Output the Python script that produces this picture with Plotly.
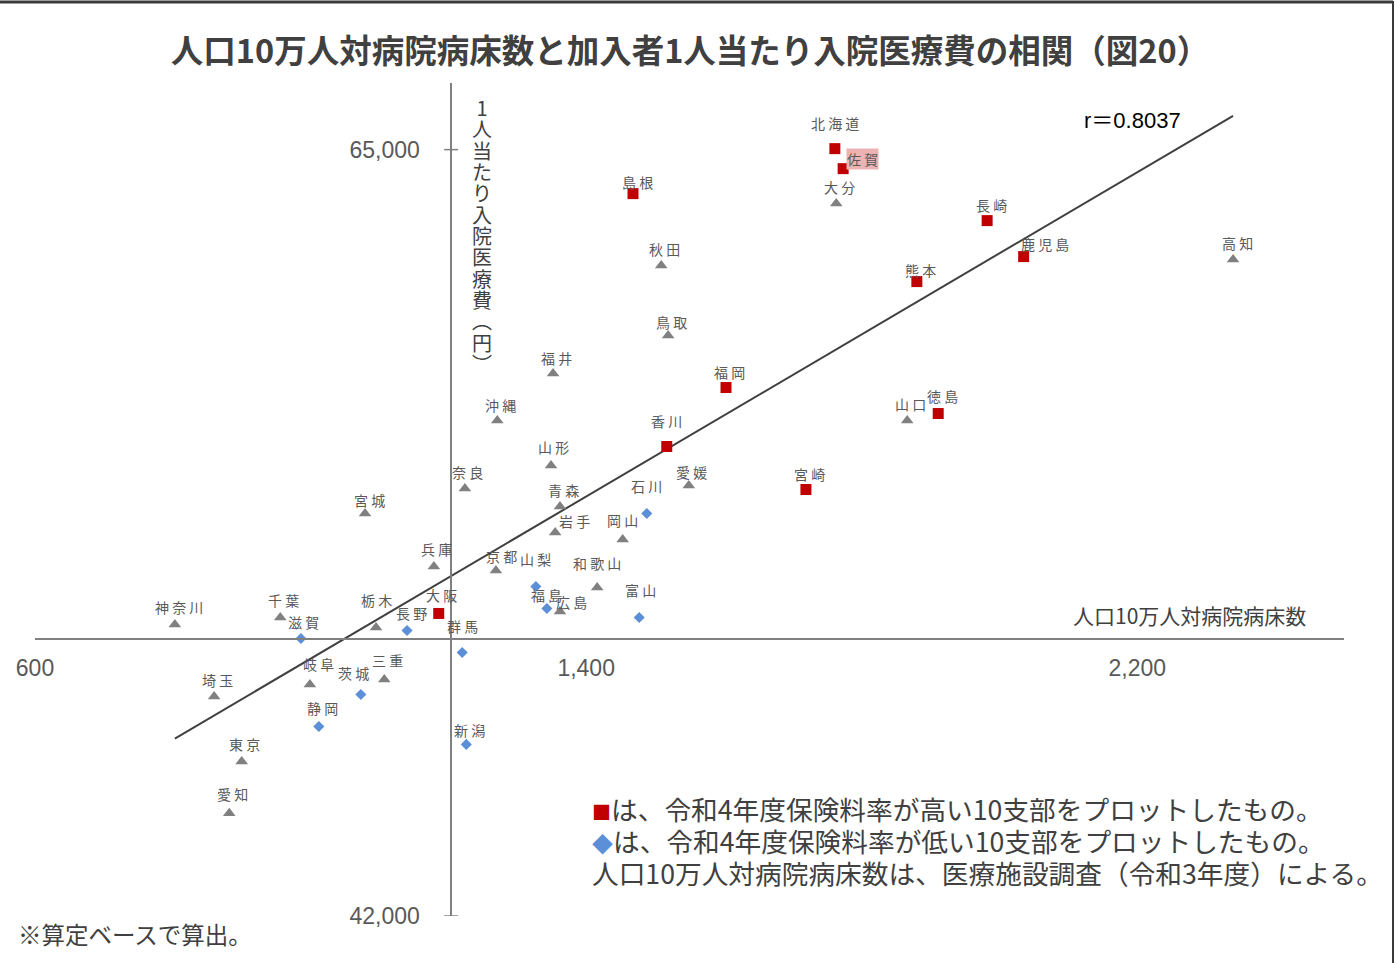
import numpy as np
import plotly.graph_objects as go

W, H = 1397, 963

# ---------------- data ----------------
HIGH_NAMES = ["北海道", "佐賀", "島根", "長崎", "鹿児島", "熊本", "福岡", "徳島", "香川", "宮崎", "大阪"]
HIGH_BEDS = [1761, 1773, 1468, 1982, 2035, 1880, 1603, 1911, 1517, 1719, 1186]
HIGH_COST = [65030, 64430, 63680, 62870, 61790, 61040, 57860, 57080, 56090, 54800, 51080]

LOW_NAMES = ["石川", "山梨", "福島", "富山", "滋賀", "長野", "群馬", "茨城", "静岡", "新潟"]
LOW_BEDS = [1488, 1327, 1343, 1477, 986, 1140, 1220, 1073, 1012, 1226]
LOW_COST = [54080, 51890, 51230, 50960, 50330, 50570, 49910, 48650, 47690, 47150]

OTHER_NAMES = ["秋田", "大分", "高知", "鳥取", "福井", "沖縄", "山口", "山形", "奈良", "愛媛",
               "宮城", "青森", "岩手", "岡山", "兵庫", "京都", "和歌山", "広島", "神奈川", "千葉",
               "栃木", "埼玉", "岐阜", "三重", "東京", "愛知"]
OTHER_BEDS = [1509, 1763, 2339, 1519, 1352, 1271, 1866, 1349, 1224, 1549,
              1079, 1362, 1355, 1453, 1179, 1269, 1416, 1362, 803, 956,
              1095, 860, 999, 1107, 900, 882]
OTHER_COST = [61520, 63380, 61700, 59420, 58280, 56870, 56870, 55520, 54830, 54920,
              54080, 54290, 53510, 53300, 52490, 52370, 51860, 51140, 50750, 50960,
              50660, 48590, 48950, 49100, 46640, 45080]

X_RANGE = [600, 2500]
X_TICKS = [600, 1400, 2200]
Y_RANGE = [42000, 67000]
Y_TICKS = [42000, 65000]
X_CROSS = 1204     # vertical axis crosses here
Y_CROSS = 50316    # horizontal axis crosses here

TITLE = "人口10万人対病院病床数と加入者1人当たり入院医療費の相関（図20）"
X_TITLE = "人口10万人対病院病床数"
Y_TITLE = "1人当たり入院医療費︵円︶"
R_TEXT = "r＝0.8037"
NOTE_LINES = [
    "<span style='color:#C00000;font-size:19px'>■</span>は、令和4年度保険料率が高い10支部をプロットしたもの。",
    "<span style='color:#5B8FD8;font-size:21px'>◆</span>は、令和4年度保険料率が低い10支部をプロットしたもの。",
    "人口10万人対病院病床数は、医療施設調査（令和3年度）による。",
]
FOOT = "※算定ベースで算出。"

# ---------------- layout helpers ----------------
JP = "Noto Sans CJK JP"
NUM = "Liberation Sans, Arial, Noto Sans CJK JP"
AXIS_COLOR = "#808080"
XDOM = [35 / W, 1344 / W]
YDOM = [1 - 916 / H, 1 - 83 / H]
xpos_cross = XDOM[0] + (XDOM[1] - XDOM[0]) * (X_CROSS - X_RANGE[0]) / (X_RANGE[1] - X_RANGE[0])
ypos_cross = YDOM[0] + (YDOM[1] - YDOM[0]) * (Y_CROSS - Y_RANGE[0]) / (Y_RANGE[1] - Y_RANGE[0])

# label offsets in pixels (dx, dy-up)
LABEL_OFFSETS = {
    "北海道": (0, 26), "佐賀": (19, 10), "大分": (3, 17), "島根": (4, 12), "秋田": (3, 17),
    "鳥取": (3, 14), "長崎": (4, 16), "鹿児島": (21, 13), "高知": (4, 17), "熊本": (4, 12),
    "山口": (3, 17), "徳島": (4, 18), "宮崎": (4, 16), "福岡": (3, 16), "沖縄": (3, 16),
    "香川": (0, 26), "山形": (2, 19), "奈良": (3, 17), "愛媛": (3, 14), "青森": (4, 17),
    "石川": (0, 27), "岩手": (19, 11), "岡山": (0, 19), "宮城": (4, 13), "兵庫": (3, 17),
    "京都": (6, 14), "山梨": (0, 27), "和歌山": (0, 24), "福島": (0, 13), "広島": (12, 9),
    "富山": (1, 27), "大阪": (3, 18), "長野": (4, 17), "群馬": (0, 26), "神奈川": (4, 17),
    "千葉": (3, 17), "滋賀": (3, 16), "栃木": (0, 27), "埼玉": (3, 16), "岐阜": (9, 20),
    "茨城": (-7, 21), "三重": (3, 19), "静岡": (4, 18), "東京": (3, 17), "愛知": (3, 19),
    "新潟": (3, 14),
}

fig = go.Figure()

# trend line (least squares over all points)
all_x = np.array(HIGH_BEDS + LOW_BEDS + OTHER_BEDS, dtype=float)
all_y = np.array(HIGH_COST + LOW_COST + OTHER_COST, dtype=float)
slope, intercept = np.polyfit(all_x, all_y, 1)
tx = np.array([all_x.min(), all_x.max()])
fig.add_trace(go.Scatter(x=tx, y=slope * tx + intercept, mode="lines",
                         line=dict(color="#404040", width=2), hoverinfo="skip", showlegend=False))

fig.add_trace(go.Scatter(x=OTHER_BEDS, y=OTHER_COST, mode="markers", text=OTHER_NAMES,
                         marker=dict(symbol="triangle-up", size=11, color="#808080"),
                         showlegend=False))
fig.add_trace(go.Scatter(x=LOW_BEDS, y=LOW_COST, mode="markers", text=LOW_NAMES,
                         marker=dict(symbol="diamond", size=8.5, color="#5B8FD8"),
                         showlegend=False))
fig.add_trace(go.Scatter(x=HIGH_BEDS, y=HIGH_COST, mode="markers", text=HIGH_NAMES,
                         marker=dict(symbol="square", size=11, color="#C00000"),
                         showlegend=False))

annotations = []
for names, xs, ys in [(HIGH_NAMES, HIGH_BEDS, HIGH_COST), (LOW_NAMES, LOW_BEDS, LOW_COST),
                      (OTHER_NAMES, OTHER_BEDS, OTHER_COST)]:
    for n, xv, yv in zip(names, xs, ys):
        dx, dy = LABEL_OFFSETS.get(n, (3, 16))
        a = dict(x=xv, y=yv, xref="x", yref="y", text=" ".join(n), showarrow=False,
                 xshift=dx, yshift=dy, font=dict(family=JP, size=14, color="#595959"),
                 xanchor="center", yanchor="middle")
        if n == "佐賀":
            a.update(bgcolor="#EDB3B3", borderpad=0)
        annotations.append(a)

# vertical y-axis title: one text block, one character per line (tight line pitch,
# glyphs enlarged through span styling)
ytitle_text = "<br>".join(f"<span style='font-size:20px'>{ch}</span>" for ch in Y_TITLE)
annotations.append(dict(x=482 / W, y=1 - 236 / H, xref="paper", yref="paper",
                        text=ytitle_text, showarrow=False, xanchor="center", yanchor="middle",
                        align="center", font=dict(family=JP, size=16.4, color="#404040")))

annotations.append(dict(x=X_RANGE[1], y=Y_CROSS, xref="x", yref="y", text=X_TITLE, showarrow=False,
                        xanchor="right", yanchor="bottom", xshift=-36, yshift=7,
                        font=dict(family=JP, size=21, color="#404040")))
annotations.append(dict(x=1082 / W, y=1 - 120 / H, xref="paper", yref="paper", text=R_TEXT,
                        showarrow=False, xanchor="left", yanchor="middle",
                        font=dict(family=NUM, size=22, color="#000000")))
for i, line in enumerate(NOTE_LINES):
    annotations.append(dict(x=590 / W, y=1 - (808 + 32 * i) / H, xref="paper", yref="paper",
                            text=line, showarrow=False, xanchor="left", yanchor="middle",
                            font=dict(family=JP, size=26.7, color="#404040")))
annotations.append(dict(x=16 / W, y=1 - 934 / H, xref="paper", yref="paper", text=FOOT,
                        showarrow=False, xanchor="left", yanchor="middle",
                        font=dict(family=JP, size=23.5, color="#404040")))

shapes = []
for t in Y_TICKS:
    shapes.append(dict(type="line", xref="x", yref="y", xsizemode="pixel", xanchor=X_CROSS,
                       x0=-7, x1=7, y0=t, y1=t, line=dict(color=AXIS_COLOR, width=1.5)))
# frame (top and right edges)
shapes.append(dict(type="line", xref="paper", yref="paper", x0=0, x1=1393 / W, y0=1 - 2 / H, y1=1 - 2 / H,
                   line=dict(color="#3a3a3a", width=3)))
shapes.append(dict(type="line", xref="paper", yref="paper", x0=1393 / W, x1=1393 / W, y0=0, y1=1 - 1 / H,
                   line=dict(color="#3a3a3a", width=2)))

fig.update_layout(
    width=W, height=H, margin=dict(l=0, r=0, t=0, b=0, autoexpand=False),
    paper_bgcolor="white", plot_bgcolor="white",
    title=dict(text=TITLE, x=690 / W, y=1 - 52 / H, xanchor="center", yanchor="middle",
               font=dict(family=JP, size=32.5, color="#404040", weight="bold")),
    xaxis=dict(domain=XDOM, range=X_RANGE, anchor="free", position=ypos_cross, automargin=False,
               tickvals=X_TICKS, ticktext=[f"{v:,}" for v in X_TICKS], ticks="",
               ticklabelstandoff=9,
               showgrid=False, zeroline=False, showline=True, linecolor=AXIS_COLOR, linewidth=1.5,
               tickfont=dict(family=NUM, size=23, color="#595959")),
    yaxis=dict(domain=YDOM, range=Y_RANGE, anchor="free", position=xpos_cross, automargin=False,
               tickvals=Y_TICKS, ticktext=[f"{v:,}" for v in Y_TICKS], ticks="",
               ticklabelstandoff=26,
               showgrid=False, zeroline=False, showline=True, linecolor=AXIS_COLOR, linewidth=1.5,
               tickfont=dict(family=NUM, size=23, color="#595959")),
    annotations=annotations, shapes=shapes, showlegend=False,
)

fig.write_html("out.html")
